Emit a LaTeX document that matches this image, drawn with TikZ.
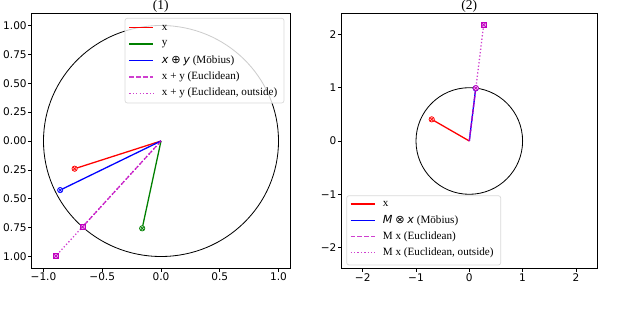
\documentclass[tikz,border=0pt]{standalone}
\usepackage{fontspec}
\setmainfont{Liberation Serif}
\newfontfamily\axisfont{DejaVu Sans}
\usetikzlibrary{positioning,calc}

\definecolor{plred}{rgb}{1,0,0}
\definecolor{plgreen}{rgb}{0,0.5,0}
\definecolor{plblue}{rgb}{0,0,1}
\definecolor{plmag}{rgb}{0.75,0,0.75}

\newcommand{\mth}[1]{{\axisfont\itshape #1}}

\begin{document}
\begin{tikzpicture}[x=0.03cm,y=0.03cm,
    frame/.style={line width=0.8pt},
    tick/.style={line width=0.6pt},
    ticklbl/.style={font=\axisfont\fontsize{9}{10}\selectfont, inner sep=1pt},
    ball/.style={line width=0.7pt},
    vec/.style={line width=1.1pt},
    xvec/.style={vec, plred},
    yvec/.style={vec, plgreen},
    mvec/.style={vec, plblue},
    euc/.style={vec, plmag, opacity=0.75, dash pattern=on 4pt off 1.8pt},
    outs/.style={vec, plmag, opacity=0.75, dash pattern=on 1.1pt off 1.8pt},
    omark/.style={circle, draw=#1, fill=#1!20, line width=0.6pt, inner sep=0pt, minimum size=0.16cm,
      path picture={\draw[#1, line width=0.6pt] (path picture bounding box.north west) -- (path picture bounding box.south east)
        (path picture bounding box.north east) -- (path picture bounding box.south west);}},
    smark/.style={rectangle, draw=#1, fill=#1!35, line width=0.6pt, inner sep=0pt, minimum size=0.15cm,
      path picture={\draw[#1, line width=0.6pt] (path picture bounding box.north west) -- (path picture bounding box.south east)
        (path picture bounding box.north east) -- (path picture bounding box.south west);}},
    legbox/.style={draw=black!15, fill=white, fill opacity=0.8, rounded corners=2pt, line width=0.6pt},
    legtxt/.style={font=\fontsize{9.5}{11}\selectfont, anchor=west, inner sep=0pt},
    ttl/.style={font=\fontsize{11.5}{13}\selectfont, anchor=base, inner sep=0pt}
  ]
  \useasboundingbox (0,0) rectangle (630,318);

  % Titel
  \node[ttl] (t1) at (160.7,308.3) {(1)};
  \node[ttl] (t2) at (469.3,308.3) {(2)};

  % (1) Moebius-Addition
  \begin{scope}[shift={(161,177)}, x=3.525cm, y=3.465cm]
    \draw[frame] (-1.1,-1.1) rectangle (1.1,1.1);
    \foreach \v/\t in {-1/−1.0,-0.5/−0.5,0/0.0,0.5/0.5,1/1.0}
      \draw[tick] (\v,-1.1) -- ++(0,-3pt) node[ticklbl, below] {\t};
    \foreach \v/\t in {1/1.00,0.75/0.75,0.5/0.50,0.25/0.25,0/0.00,-0.25/0.25,-0.5/0.50,-0.75/0.75,-1/1.00}
      \draw[tick] (-1.1,\v) -- ++(-3pt,0) node[ticklbl, left] {\t};
    \draw[ball] (0,0) circle[radius=1];

    \coordinate (o1) at (0,0);
    \coordinate (x1) at (-0.735,-0.24);
    \coordinate (y1) at (-0.16,-0.756);
    \coordinate (mob1) at (-0.858,-0.425);
    \coordinate (euc1) at (-0.668,-0.744);
    \coordinate (out1) at (-0.895,-0.996);

    \draw[xvec] (o1) -- (x1);
    \draw[yvec] (o1) -- (y1);
    \draw[mvec] (o1) -- (mob1);
    \draw[outs] (o1) -- (out1);
    \draw[euc] (o1) -- (euc1);

    \node[omark=plred] (mx1) at (x1) {};
    \node[omark=plgreen] (my1) at (y1) {};
    \node[omark=plblue] (mm1) at (mob1) {};
    \node[smark=plmag] (me1) at (euc1) {};
    \node[smark=plmag] (mo1) at (out1) {};
  \end{scope}

  % Legende (1)
  \draw[legbox] (125,215) rectangle (284,299.7);
  \node[legtxt] (lt0) at (161.7,290.3) {x};
  \node[legtxt] (lt1) at (161.7,273.9) {y};
  \node[legtxt] (lt2) at (161.7,257.5) {\mth{x} {\axisfont ⊕} \mth{y} (Möbius)};
  \node[legtxt] (lt3) at (161.7,241.1) {x + y (Euclidean)};
  \node[legtxt] (lt4) at (161.7,224.7) {x + y (Euclidean, outside)};
  \draw[xvec] ([xshift=-0.97cm]lt0.west) -- ++(24,0);
  \draw[yvec] ([xshift=-0.97cm]lt1.west) -- ++(24,0);
  \draw[mvec] ([xshift=-0.97cm]lt2.west) -- ++(24,0);
  \draw[euc] ([xshift=-0.97cm]lt3.west) -- ++(24,0);
  \draw[outs] ([xshift=-0.97cm]lt4.west) -- ++(24,0);

  % (2) Moebius-Skalarmultiplikation
  \begin{scope}[shift={(469.3,177)}, x=1.599cm, y=1.599cm]
    \draw[frame] (-2.4,-2.4) rectangle (2.4,2.4);
    \foreach \v/\t in {-2/−2,-1/−1,0/0,1/1,2/2} {
      \draw[tick] (\v,-2.4) -- ++(0,-3pt) node[ticklbl, below] {\t};
      \draw[tick] (-2.4,\v) -- ++(-3pt,0) node[ticklbl, left] {\t};
    }
    \draw[ball] (0,0) circle[radius=1];

    \coordinate (o2) at (0,0);
    \coordinate (x2) at (-0.705,0.406);
    \coordinate (mob2) at (0.12,0.987);
    \coordinate (euc2) at (0.123,0.992);
    \coordinate (out2) at (0.27,2.18);

    \draw[xvec] (o2) -- (x2);
    \draw[mvec] (o2) -- (mob2);
    \draw[outs] (o2) -- (out2);
    \draw[euc] (o2) -- (euc2);

    \node[omark=plred] (mx2) at (x2) {};
    \node[omark=plblue] (mm2) at (mob2) {};
    \node[omark=plmag] (me2) at (euc2) {};
    \node[smark=plmag] (mo2) at (out2) {};
  \end{scope}

  % Legende (2)
  \draw[legbox] (346.7,53) rectangle (500.7,122.3);
  \node[legtxt] (lu0) at (382.7,114) {x};
  \node[legtxt] (lu1) at (382.7,97.8) {\mth{M} {\axisfont ⊗} \mth{x} (Möbius)};
  \node[legtxt] (lu2) at (382.7,81.6) {M x (Euclidean)};
  \node[legtxt] (lu3) at (382.7,65.4) {M x (Euclidean, outside)};
  \draw[xvec] ([xshift=-0.96cm]lu0.west) -- ++(24,0);
  \draw[mvec] ([xshift=-0.96cm]lu1.west) -- ++(24,0);
  \draw[euc] ([xshift=-0.96cm]lu2.west) -- ++(24,0);
  \draw[outs] ([xshift=-0.96cm]lu3.west) -- ++(24,0);
\end{tikzpicture}
\end{document}
